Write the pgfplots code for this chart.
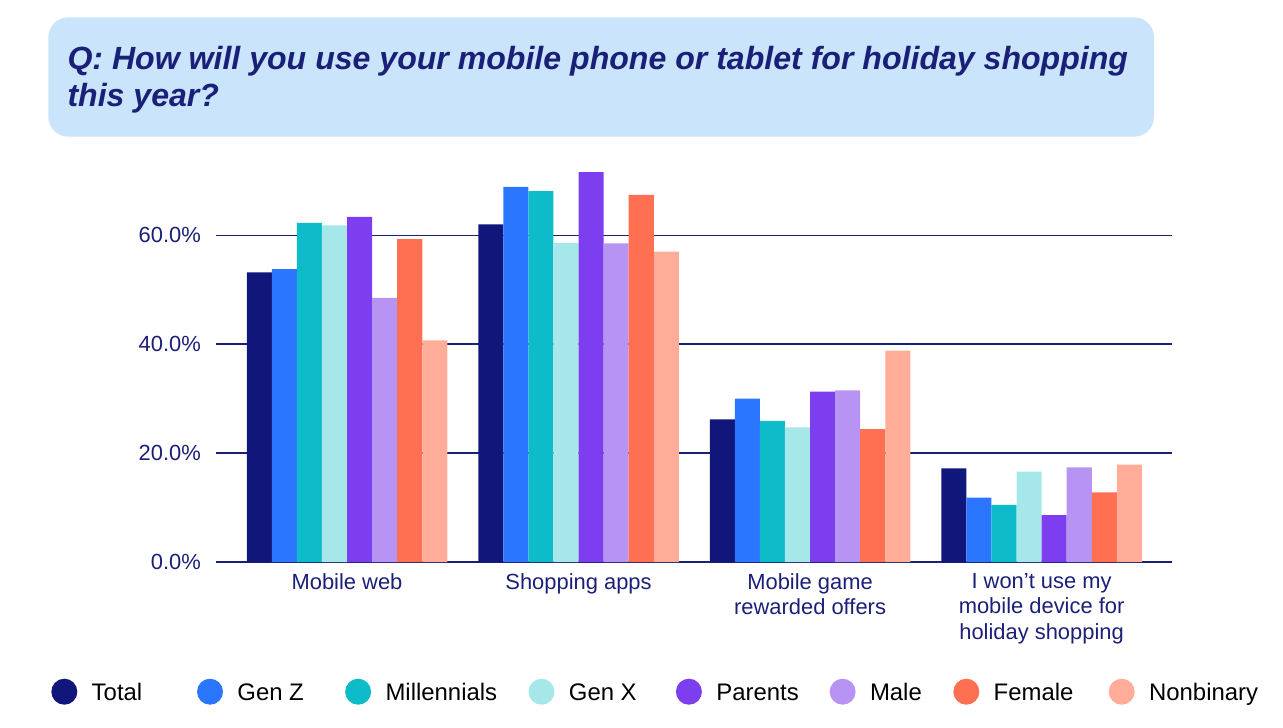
\documentclass[border=0pt]{standalone}
\usepackage{fontspec}
\setmainfont{Liberation Sans}
\usepackage{pgfplots}
\pgfplotsset{compat=1.18}
\definecolor{navy}{HTML}{1A1F78}
\definecolor{titlebg}{HTML}{C9E4FB}
\definecolor{cTotal}{HTML}{10167A}
\definecolor{cGenZ}{HTML}{2B76FF}
\definecolor{cMill}{HTML}{0DBCC8}
\definecolor{cGenX}{HTML}{A6E8EA}
\definecolor{cPar}{HTML}{7C3EEE}
\definecolor{cMale}{HTML}{B794F4}
\definecolor{cFem}{HTML}{FF6F52}
\definecolor{cNon}{HTML}{FFAC98}
\begin{document}
\begin{tikzpicture}
\useasboundingbox (0,0) rectangle (1283bp,728bp);
\fill[titlebg, rounded corners=20bp] (48.3bp,591.3bp) rectangle (1154bp,710.7bp);
\node[anchor=base west, inner sep=0pt, text=navy, font=\fontsize{32.2}{37}\selectfont\bfseries\itshape] at (67.3bp,658bp) {Q: How will you use your mobile phone or tablet for holiday shopping};
\node[anchor=base west, inner sep=0pt, text=navy, font=\fontsize{32.2}{37}\selectfont\bfseries\itshape] at (67.3bp,621.3bp) {this year?};
\begin{axis}[
  at={(216bp,166bp)}, anchor=south west,
  scale only axis, width=955.7bp, height=408.4bp,
  xmin=-0.566, xmax=3.562, ymin=0, ymax=75,
  axis line style={draw=none}, tick style={draw=none},
  ytick={0,20,40,60},
  ymajorgrids, grid style={navy, line width=1.4bp},
  yticklabel={\pgfmathprintnumber[fixed,fixed zerofill,precision=1]{\tick}\%},
  /pgf/number format/assume math mode=true,
  yticklabel style={anchor=east, inner sep=0pt, xshift=-15bp, text=navy, font=\fontsize{22}{25.5}\selectfont},
  xtick={0,1,2,3},
  xticklabels={Mobile web, Shopping apps, {Mobile game\\rewarded offers}, {I won’t use my\\mobile device for\\holiday shopping}},
  xticklabel style={anchor=north, inner sep=0pt, yshift=-7bp, align=center, text=navy, font=\fontsize{22}{25.5}\selectfont},
  ybar, bar width=0.1083,
  legend columns=8,
  legend style={at={(-0.1723,-0.3176)}, anchor=west, draw=none, fill=none, inner sep=0pt, outer sep=0pt,
    font=\fontsize{24}{27}\selectfont, text=black,
    nodes={inner sep=0pt, anchor=west, text height=22bp, text depth=4bp},
    /tikz/every odd column/.append style={column sep=14.4bp},
    /tikz/every even column/.append style={column sep=0bp}},
  legend image code/.code={\fill[#1] (13bp,0bp) circle (13bp);},
]
\addplot[fill=cTotal, draw=none, bar shift=-0.379] coordinates {(0,53.2) (1,62.0) (2,26.2) (3,17.2)};
\addplot[fill=cGenZ, draw=none, bar shift=-0.2708] coordinates {(0,53.8) (1,68.9) (2,30.0) (3,11.8)};
\addplot[fill=cMill, draw=none, bar shift=-0.1625] coordinates {(0,62.3) (1,68.1) (2,25.9) (3,10.5)};
\addplot[fill=cGenX, draw=none, bar shift=-0.0542] coordinates {(0,61.8) (1,58.6) (2,24.7) (3,16.6)};
\addplot[fill=cPar, draw=none, bar shift=0.0542] coordinates {(0,63.4) (1,71.6) (2,31.3) (3,8.6)};
\addplot[fill=cMale, draw=none, bar shift=0.1625] coordinates {(0,48.5) (1,58.5) (2,31.5) (3,17.4)};
\addplot[fill=cFem, draw=none, bar shift=0.2708] coordinates {(0,59.3) (1,67.4) (2,24.4) (3,12.8)};
\addplot[fill=cNon, draw=none, bar shift=0.379] coordinates {(0,40.7) (1,57.0) (2,38.8) (3,17.9)};
\legend{\makebox[105.3bp][l]{Total}, \makebox[107.7bp][l]{Gen Z}, \makebox[143bp][l]{Millennials}, \makebox[107bp][l]{Gen X}, \makebox[113.3bp][l]{Parents}, \makebox[83.3bp][l]{Male}, \makebox[115bp][l]{Female}, Nonbinary}
\end{axis}
\end{tikzpicture}
\end{document}
